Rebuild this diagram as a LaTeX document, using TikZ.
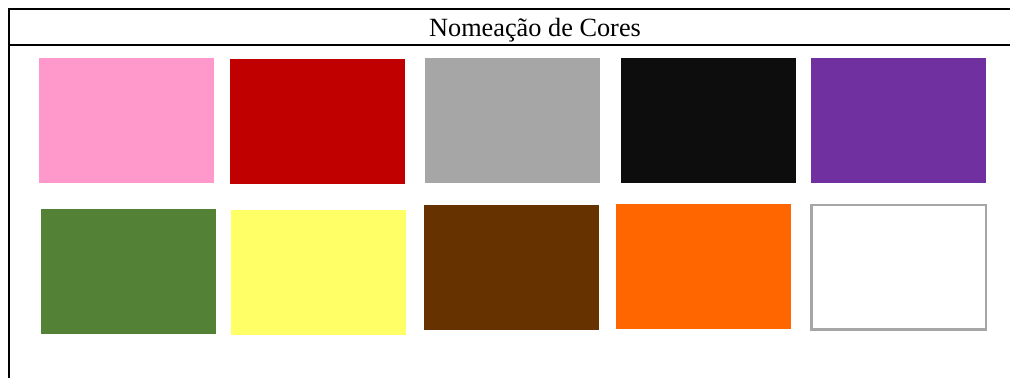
\documentclass[tikz,border=0pt]{standalone}
\usepackage{fontspec}
\setmainfont{Liberation Serif}
\definecolor{cpink}{HTML}{FF99CC}
\definecolor{cred}{HTML}{C00000}
\definecolor{cgray}{HTML}{A6A6A6}
\definecolor{cblack}{HTML}{0D0D0D}
\definecolor{cpurple}{HTML}{7030A0}
\definecolor{cgreen}{HTML}{538135}
\definecolor{cyellow}{HTML}{FFFF66}
\definecolor{cbrown}{HTML}{663300}
\definecolor{corange}{HTML}{FF6600}
\begin{document}
\begin{tikzpicture}[x=1pt,y=-1pt,
  swatch/.style={anchor=north west,inner sep=0pt,outer sep=0pt,minimum width=175pt,minimum height=125pt,fill=#1,draw=none},
  rule/.style={line width=2pt,black}]
\useasboundingbox (0,0) rectangle (1010,378);
% table frame
\coordinate (tl) at (9,9);
\coordinate (tr) at (1010,9);
\coordinate (sl) at (9,45);
\coordinate (sr) at (1010,45);
\coordinate (bl) at (9,378);
\draw[rule] (tl) -- (tr);
\draw[rule] (sl) -- (sr);
\draw[rule] ([yshift=1pt]tl) -- (bl);
\node[anchor=base,inner sep=0pt,font=\fontsize{26.3}{30}\selectfont] (title) at (535,36) {Nomeação de Cores};
% row 1
\node[swatch=cpink]   (pink)   at (39,58) {};
\node[swatch=cred]    (red)    at (230,58.5) {};
\node[swatch=cgray]   (gray)   at (425,58) {};
\node[swatch=cblack]  (black)  at (621,58) {};
\node[swatch=cpurple] (purple) at (811,58) {};
% row 2
\node[swatch=cgreen]  (green)  at (41,209) {};
\node[swatch=cyellow] (yellow) at (231,210) {};
\node[swatch=cbrown]  (brown)  at (424,205) {};
\node[swatch=corange] (orange) at (616,204) {};
\node[anchor=north west,inner sep=0pt,outer sep=0pt,minimum width=174.5pt,minimum height=124.5pt,fill=white,draw=cgray,line width=2.5pt] (white) at (811.25,205) {};
\end{tikzpicture}
\end{document}
